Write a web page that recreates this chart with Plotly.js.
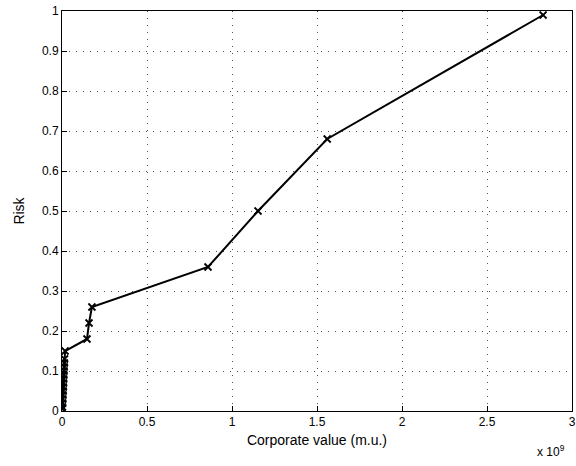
<!DOCTYPE html>
<html>
<head>
<meta charset="utf-8">
<script src="https://cdn.plot.ly/plotly-3.0.1.min.js"></script>
<style>html,body{margin:0;padding:0;background:#fff;}#chart{width:576px;height:466px;}</style>
</head>
<body>
<div id="chart"></div>
<script>
// Corporate value in units of 1e9 m.u.
var corporateValueE9 = [0.002, 0.003, 0.004, 0.005, 0.006, 0.007, 0.008, 0.009, 0.010, 0.011, 0.012, 0.013, 0.014, 0.015, 0.018, 0.147, 0.159, 0.176, 0.859, 1.153, 1.56, 2.83];
var risk = [0.005, 0.01, 0.02, 0.03, 0.04, 0.05, 0.06, 0.07, 0.08, 0.09, 0.10, 0.11, 0.12, 0.13, 0.15, 0.18, 0.22, 0.26, 0.36, 0.50, 0.68, 0.99];
var xTicks = [0, 0.5, 1, 1.5, 2, 2.5, 3];
var xTickLabels = ['0', '0.5', '1', '1.5', '2', '2.5', '3'];
var yTicks = [0, 0.1, 0.2, 0.3, 0.4, 0.5, 0.6, 0.7, 0.8, 0.9, 1];
var yTickLabels = ['0', '0.1', '0.2', '0.3', '0.4', '0.5', '0.6', '0.7', '0.8', '0.9', '1'];

var font = 'Liberation Sans, Arial, Helvetica, sans-serif';
var trace = {
  x: corporateValueE9, y: risk, type: 'scatter', mode: 'lines+markers',
  line: {color: '#000', width: 2},
  marker: {symbol: 'x-thin', size: 7, color: '#000', line: {color: '#000', width: 1.8}},
  hoverinfo: 'none'
};
var axisCommon = {
  showline: true, mirror: true, linecolor: '#000', linewidth: 1,
  ticks: 'inside', ticklen: 5, tickcolor: '#000',
  showgrid: true, gridcolor: '#555', griddash: '1px,6px', gridwidth: 1,
  zeroline: false, tickfont: {family: font, size: 12, color: '#000'}
};
var layout = {
  width: 576, height: 466,
  margin: {l: 62, r: 4, t: 11, b: 55},
  paper_bgcolor: '#fff', plot_bgcolor: '#fff',
  showlegend: false,
  xaxis: Object.assign({}, axisCommon, {
    range: [0, 3], tickmode: 'array', tickvals: xTicks, ticktext: xTickLabels,
    title: {text: 'Corporate value (m.u.)', font: {family: font, size: 14, color: '#000'}, standoff: 6}
  }),
  yaxis: Object.assign({}, axisCommon, {
    range: [0, 1], tickmode: 'array', tickvals: yTicks, ticktext: yTickLabels,
    title: {text: 'Risk', font: {family: font, size: 14, color: '#000'}, standoff: 14}
  }),
  annotations: [{
    text: 'x 10<sup>9</sup>', xref: 'paper', yref: 'paper', x: 0.99, y: -0.075,
    xanchor: 'right', yanchor: 'top', showarrow: false,
    font: {family: font, size: 12, color: '#000'}
  }]
};
Plotly.newPlot('chart', [trace], layout, {displayModeBar: false, staticPlot: true});
</script>
</body>
</html>
